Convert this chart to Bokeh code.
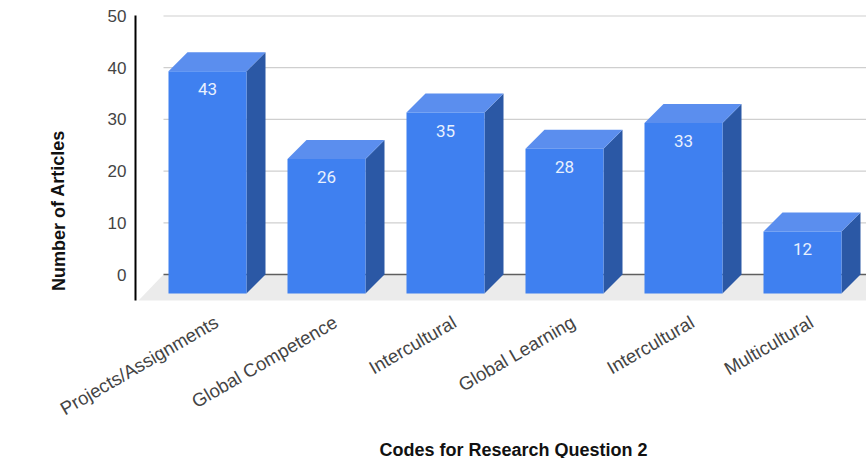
from bokeh.core.properties import value
from bokeh.embed import file_html
from bokeh.models import ColumnDataSource, FixedTicker, Label, LinearAxis, Range1d
from bokeh.plotting import figure
from bokeh.resources import INLINE

categories = ["Projects/Assignments", "Global Competence", "Intercultural",
              "Global Learning", "Intercultural", "Multicultural"]
articles = [43, 26, 35, 28, 33, 12]
y_ticks = [0, 10, 20, 30, 40, 50]

WIDTH, HEIGHT = 866, 458

# Scale of the plot: one category step and one article, in pixels
step_px = 119
unit_px = 5.17
origin_x_px = 207
origin_y_px = 274

# Box geometry in data units: half the face width and the oblique depth offset
half_w = 39 / step_px
depth_x = 19 / step_px
depth_y = 19 / unit_px
positions = list(range(len(categories)))

# The frame fills the page so the axes and titles can sit anywhere in it
x_start, x_end = -origin_x_px / step_px, (WIDTH - origin_x_px) / step_px
y_start, y_end = (origin_y_px - HEIGHT) / unit_px, origin_y_px / unit_px

spine_x = -72 / step_px
wall_left = -44 / step_px
floor_left = -69 / step_px
y_floor, y_top = -5.03, 50.1

# Slanted category labels end a little to the right of their bars
label_shift = 9 / step_px

p = figure(width=WIDTH, height=HEIGHT, output_backend="svg", toolbar_location=None,
           x_range=Range1d(x_start, x_end), y_range=Range1d(y_start, y_end),
           x_axis_type=None, y_axis_type=None,
           min_border_left=0, min_border_right=0, min_border_top=0, min_border_bottom=0)
p.extra_x_ranges["category_labels"] = Range1d(x_start - label_shift, x_end - label_shift)
p.grid.visible = False
p.outline_line_color = None
p.background_fill_color = "white"

# Floor of the 3D chart and the back-wall gridlines
p.patch([floor_left, wall_left, x_end, x_end], [y_floor, 0, 0, y_floor], color="#ebebeb", line_color=None)
p.segment([wall_left] * 5, y_ticks[1:], [x_end] * 5, y_ticks[1:], line_color="#cfcfcf", line_width=1.2)
p.segment([wall_left], [0], [x_end], [0], line_color="#5f5f5f", line_width=1.5)

# Each box: side face, top face, then the front face on top
side_xs, side_ys, top_xs, top_ys = [], [], [], []
lefts, rights, tops, bottoms, label_x, label_y = [], [], [], [], [], []
for pos, val in zip(positions, articles):
    l, r = pos - half_w, pos + half_w
    b, t = -depth_y, val - depth_y
    side_xs.append([r, r + depth_x, r + depth_x, r])
    side_ys.append([b, b + depth_y, t + depth_y, t])
    top_xs.append([l, l + depth_x, r + depth_x, r])
    top_ys.append([t, t + depth_y, t + depth_y, t])
    lefts.append(l); rights.append(r); tops.append(t); bottoms.append(b)
    label_x.append(pos); label_y.append(t)

p.patches(side_xs, side_ys, color="#2b58a5", line_color=None)
p.patches(top_xs, top_ys, color="#5b8eee", line_color=None)
p.quad(left=lefts, right=rights, top=tops, bottom=bottoms, color="#3f80f0", line_color=None)

labels = ColumnDataSource(dict(x=label_x, y=label_y, text=[str(v) for v in articles]))
p.text("x", "y", text="text", source=labels, text_color="#e8f0fe", text_align="center",
       text_baseline="middle", y_offset=18, text_font=value("Roboto"), text_font_size="17px")

# Value axis with a black spine and no tick marks
y_axis = LinearAxis(ticker=FixedTicker(ticks=y_ticks), fixed_location=spine_x, bounds=(y_floor, y_top))
y_axis.axis_line_color = "black"
y_axis.axis_line_width = 2
y_axis.major_tick_line_color = None
y_axis.minor_tick_line_color = None
y_axis.major_label_standoff = 3
y_axis.major_label_text_font = "Liberation Sans"
y_axis.major_label_text_font_size = "17px"
y_axis.major_label_text_color = "#444444"
p.add_layout(y_axis, "left")

# Category axis with slanted labels
x_axis = LinearAxis(ticker=FixedTicker(ticks=positions), fixed_location=y_floor,
                    x_range_name="category_labels")
x_axis.major_label_overrides = {i: c for i, c in enumerate(categories)}
x_axis.major_label_orientation = 0.525
x_axis.axis_line_color = None
x_axis.major_tick_line_color = None
x_axis.minor_tick_line_color = None
x_axis.major_label_standoff = 14
x_axis.major_label_text_font = "Liberation Sans"
x_axis.major_label_text_font_size = "18.6px"
x_axis.major_label_text_color = "#444444"
p.add_layout(x_axis, "below")

p.add_layout(Label(x=513, y=9, x_units="screen", y_units="screen",
                   text="Codes for Research Question 2", text_align="center", text_baseline="middle",
                   text_font="Liberation Sans", text_font_style="bold", text_font_size="18px",
                   text_color="#111111"))
p.add_layout(Label(x=58, y=248, x_units="screen", y_units="screen", angle=1.5708,
                   text="Number of Articles", text_align="center", text_baseline="middle",
                   text_font="Liberation Sans", text_font_style="bold", text_font_size="18px",
                   text_color="#111111"))

open("out.html", "w").write(file_html(p, INLINE))
